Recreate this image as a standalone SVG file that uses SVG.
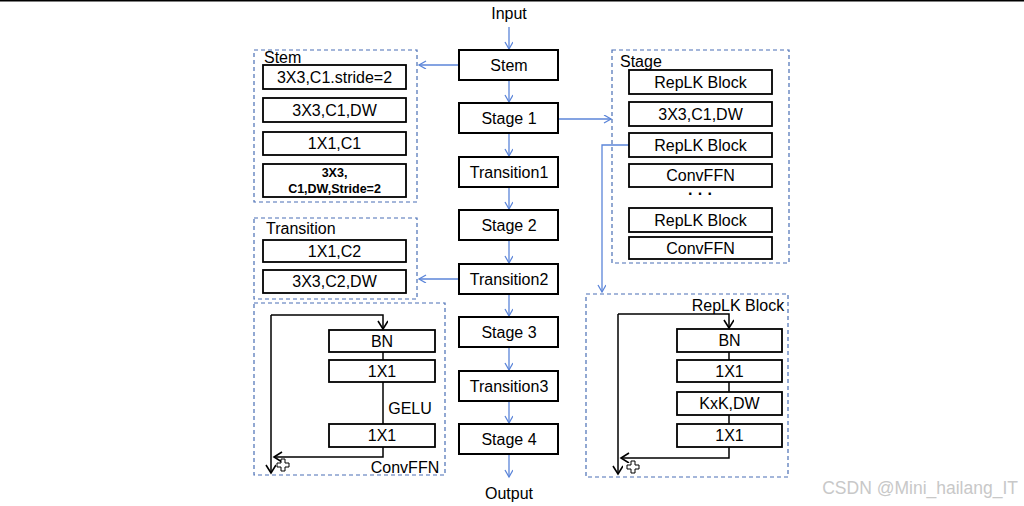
<svg xmlns="http://www.w3.org/2000/svg" width="1024" height="506" viewBox="0 0 1024 506">
<style>
.bx{fill:#fff;stroke:#000;stroke-width:2}
.ib{fill:#fff;stroke:#000;stroke-width:1.8}
.ds{fill:none;stroke:#4a6fb5;stroke-width:1.2;stroke-dasharray:4,3}
.t{font-family:"Liberation Sans",Arial,sans-serif;font-size:16px;fill:#000;text-anchor:middle;dominant-baseline:central}
.tl{font-family:"Liberation Sans",Arial,sans-serif;font-size:16px;fill:#000}
.tb{font-family:"Liberation Sans",Arial,sans-serif;font-size:12.5px;font-weight:bold;fill:#000;text-anchor:middle;dominant-baseline:central}
.bl{fill:none;stroke:#5b85d9;stroke-width:1.3}
.bk{fill:none;stroke:#000;stroke-width:1.5}
</style>
<defs>
<marker id="ab" markerWidth="10" markerHeight="10" refX="8" refY="4" orient="auto" markerUnits="userSpaceOnUse">
<path d="M1,0 L8,4 L1,8" fill="none" stroke="#5b85d9" stroke-width="1.3"/>
</marker>
<marker id="ak" markerWidth="12" markerHeight="12" refX="9" refY="5" orient="auto" markerUnits="userSpaceOnUse">
<path d="M1,0 L9,5 L1,10" fill="none" stroke="#000" stroke-width="1.6"/>
</marker>
</defs>
<rect x="0" y="0" width="1024" height="506" fill="#fff"/>
<line x1="0" y1="0.8" x2="1024" y2="0.8" stroke="#000" stroke-width="1.6"/>

<g id="connectors">
<line class="bl" x1="509" y1="27" x2="509" y2="49" marker-end="url(#ab)"/>
<line class="bl" x1="509" y1="80" x2="509" y2="102" marker-end="url(#ab)"/>
<line class="bl" x1="509" y1="133" x2="509" y2="156" marker-end="url(#ab)"/>
<line class="bl" x1="509" y1="187" x2="509" y2="209" marker-end="url(#ab)"/>
<line class="bl" x1="509" y1="240" x2="509" y2="263" marker-end="url(#ab)"/>
<line class="bl" x1="509" y1="294" x2="509" y2="316" marker-end="url(#ab)"/>
<line class="bl" x1="509" y1="347" x2="509" y2="370" marker-end="url(#ab)"/>
<line class="bl" x1="509" y1="401" x2="509" y2="423" marker-end="url(#ab)"/>
<line class="bl" x1="509" y1="454" x2="509" y2="477" marker-end="url(#ab)"/>
<line class="bl" x1="459" y1="65" x2="419" y2="65" marker-end="url(#ab)"/>
<line class="bl" x1="459" y1="279" x2="419" y2="279" marker-end="url(#ab)"/>
<line class="bl" x1="559" y1="119" x2="611" y2="119" marker-end="url(#ab)"/>
<path class="bl" d="M629,145 H602 V292" marker-end="url(#ab)"/>
</g>

<g id="input"><text class="t" x="509" y="13">Input</text></g>
<g id="output"><text class="t" x="509" y="493">Output</text></g>

<g id="stem"><rect class="bx" x="459" y="50" width="99" height="30"/><text class="t" x="509" y="65">Stem</text></g>
<g id="stage1"><rect class="bx" x="459" y="103" width="99" height="30"/><text class="t" x="509" y="118">Stage 1</text></g>
<g id="transition1"><rect class="bx" x="459" y="157" width="99" height="30"/><text class="t" x="509" y="172">Transition1</text></g>
<g id="stage2"><rect class="bx" x="459" y="210" width="99" height="30"/><text class="t" x="509" y="225">Stage 2</text></g>
<g id="transition2"><rect class="bx" x="459" y="264" width="99" height="30"/><text class="t" x="509" y="279">Transition2</text></g>
<g id="stage3"><rect class="bx" x="459" y="317" width="99" height="30"/><text class="t" x="509" y="332">Stage 3</text></g>
<g id="transition3"><rect class="bx" x="459" y="371" width="99" height="30"/><text class="t" x="509" y="386">Transition3</text></g>
<g id="stage4"><rect class="bx" x="459" y="424" width="99" height="30"/><text class="t" x="509" y="439">Stage 4</text></g>

<g id="stem-detail">
<rect class="ds" x="254" y="50" width="163" height="152"/>
<text class="tl" x="264" y="63">Stem</text>
<rect class="ib" x="263" y="65" width="143" height="24"/><text class="t" x="334.5" y="77">3X3,C1.stride=2</text>
<rect class="ib" x="263" y="98" width="143" height="24"/><text class="t" x="334.5" y="110">3X3,C1,DW</text>
<rect class="ib" x="263" y="132" width="143" height="23"/><text class="t" x="334.5" y="143.5">1X1,C1</text>
<rect class="ib" x="263" y="164" width="143" height="33"/><text class="tb" x="334.5" y="173">3X3,</text><text class="tb" x="334.5" y="189">C1,DW,Stride=2</text>
</g>

<g id="transition-detail">
<rect class="ds" x="254" y="218" width="163" height="81"/>
<text class="tl" x="266" y="234">Transition</text>
<rect class="ib" x="263" y="240" width="143" height="22"/><text class="t" x="334.5" y="251">1X1,C2</text>
<rect class="ib" x="263" y="270" width="143" height="23"/><text class="t" x="334.5" y="281.5">3X3,C2,DW</text>
</g>

<g id="convffn-detail">
<rect class="ds" x="254" y="303" width="191" height="172"/>
<rect class="ib" x="329" y="330" width="106" height="22"/><text class="t" x="382" y="341">BN</text>
<rect class="ib" x="329" y="360" width="106" height="22"/><text class="t" x="382" y="371">1X1</text>
<rect class="ib" x="329" y="424" width="106" height="23"/><text class="t" x="382" y="435.5">1X1</text>
<text class="t" x="410" y="408">GELU</text>
<text class="t" x="405" y="467">ConvFFN</text>
<path class="bk" d="M271,315 H383 V329" marker-end="url(#ak)"/>
<line class="bk" x1="271" y1="315" x2="271" y2="473" marker-end="url(#ak)"/>
<line class="bk" x1="383" y1="352" x2="383" y2="360"/>
<line class="bk" x1="383" y1="382" x2="383" y2="424"/>
<path class="bk" d="M383,447 V457 H274" marker-end="url(#ak)"/>
<path d="M281,459 h4 v4 h4 v4 h-4 v4 h-4 v-4 h-4 v-4 h4 z" fill="#fff" stroke="#000" stroke-width="1"/>
</g>

<g id="stage-detail">
<rect class="ds" x="612" y="50" width="177" height="213"/>
<text class="tl" x="620" y="67">Stage</text>
<rect class="ib" x="629" y="70" width="143" height="24"/><text class="t" x="700.5" y="82">RepLK Block</text>
<rect class="ib" x="629" y="102" width="143" height="24"/><text class="t" x="700.5" y="114">3X3,C1,DW</text>
<rect class="ib" x="629" y="133" width="143" height="24"/><text class="t" x="700.5" y="145">RepLK Block</text>
<rect class="ib" x="629" y="164" width="143" height="23"/><text class="t" x="700.5" y="175.5">ConvFFN</text>
<text class="t" x="700.5" y="193" style="font-size:16px;font-weight:bold">· · ·</text>
<rect class="ib" x="629" y="208" width="143" height="24"/><text class="t" x="700.5" y="220">RepLK Block</text>
<rect class="ib" x="629" y="237" width="143" height="22"/><text class="t" x="700.5" y="248">ConvFFN</text>
</g>

<g id="replk-detail">
<rect class="ds" x="586" y="294" width="202" height="183"/>
<text class="t" x="738" y="305">RepLK Block</text>
<rect class="ib" x="677" y="329" width="105" height="23"/><text class="t" x="729.5" y="340.5">BN</text>
<rect class="ib" x="677" y="360" width="105" height="22"/><text class="t" x="729.5" y="371">1X1</text>
<rect class="ib" x="677" y="392" width="105" height="23"/><text class="t" x="729.5" y="403.5">KxK,DW</text>
<rect class="ib" x="677" y="424" width="105" height="23"/><text class="t" x="729.5" y="435.5">1X1</text>
<path class="bk" d="M618,314 H729 V328" marker-end="url(#ak)"/>
<line class="bk" x1="618" y1="314" x2="618" y2="474" marker-end="url(#ak)"/>
<line class="bk" x1="729" y1="352" x2="729" y2="360"/>
<line class="bk" x1="729" y1="382" x2="729" y2="392"/>
<line class="bk" x1="729" y1="415" x2="729" y2="424"/>
<path class="bk" d="M729,447 V458 H621" marker-end="url(#ak)"/>
<path d="M631,461 h4 v4 h4 v4 h-4 v4 h-4 v-4 h-4 v-4 h4 z" fill="#fff" stroke="#000" stroke-width="1"/>
</g>

<g id="watermark"><text x="1018" y="494" style="font-family:'Liberation Sans',Arial,sans-serif;font-size:17.5px;fill:#c8c8c8;text-anchor:end">CSDN @Mini_hailang_IT</text></g>
</svg>
